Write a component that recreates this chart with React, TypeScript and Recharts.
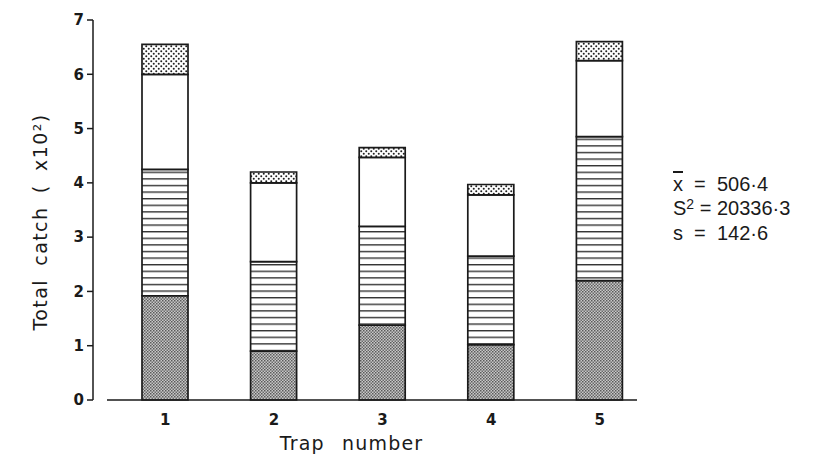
import React from 'react';
import { BarChart, Bar, XAxis, YAxis } from 'recharts';

const traps = ['1', '2', '3', '4', '5'];
const darkStipple = [1.92, 0.9, 1.38, 1.02, 2.2];
const hLines = [2.33, 1.65, 1.82, 1.63, 2.65];
const plain = [1.75, 1.45, 1.27, 1.13, 1.4];
const lightStipple = [0.55, 0.2, 0.18, 0.19, 0.35];
const yTicks = [0, 1, 2, 3, 4, 5, 6, 7];

const data = traps.map((t, i) => ({
  trap: t,
  dark: darkStipple[i],
  lines: hLines[i],
  plain: plain[i],
  light: lightStipple[i],
}));

const font = '"DejaVu Sans", "Liberation Sans", sans-serif';
const statFont = '"Liberation Sans", Arial, sans-serif';
const ink = '#1a1a1a';

export default function App() {
  return (
    <div style={{ position: 'absolute', left: 0, top: 0, width: 825, height: 459, background: '#fff' }}>
      <BarChart width={825} height={459} data={data} margin={{ top: 20, right: 171, bottom: 0, left: 0 }}>
        <defs>
          <pattern id="dark" width="3" height="3" patternUnits="userSpaceOnUse">
            <rect width="3" height="3" fill="#c8c8c8" />
            <rect x="0" y="0" width="1.5" height="1.5" fill="#5a5a5a" />
            <rect x="1.5" y="1.5" width="1.5" height="1.5" fill="#6a6a6a" />
          </pattern>
          <pattern id="lines" width="8" height="6.6" patternUnits="userSpaceOnUse">
            <rect width="8" height="6.6" fill="#fff" />
            <rect x="0" y="0" width="8" height="1.4" fill="#333" />
          </pattern>
          <pattern id="light" width="5" height="5" patternUnits="userSpaceOnUse">
            <rect width="5" height="5" fill="#fff" />
            <circle cx="1.25" cy="1.25" r="1" fill="#222" />
            <circle cx="3.75" cy="3.75" r="1" fill="#222" />
          </pattern>
        </defs>
        <XAxis
          dataKey="trap"
          height={59}
          padding={{ left: 18, right: 0 }}
          axisLine={{ stroke: ink, strokeWidth: 1.5, strokeDasharray: '0 14 530 1000' }}
          tickLine={false}
          tick={{ fill: ink, fontSize: 15, fontWeight: 'bold', fontFamily: font }}
          tickMargin={8}
          label={{
            value: 'Trap number',
            position: 'insideBottom',
            offset: 9,
            dx: -22,
            fill: ink,
            fontSize: 19,
            fontFamily: font,
            style: { letterSpacing: 1.2, wordSpacing: 10 },
          }}
        />
        <YAxis
          width={93}
          domain={[0, 7]}
          ticks={yTicks}
          interval={0}
          axisLine={{ stroke: ink, strokeWidth: 1.5 }}
          tickLine={{ stroke: ink, strokeWidth: 1.5 }}
          tickSize={6}
          tickMargin={3}
          tick={{ fill: ink, fontSize: 15, fontWeight: 'bold', fontFamily: font }}
          label={{
            value: 'Total catch ( x10²)',
            angle: -90,
            position: 'insideLeft',
            offset: 40,
            dy: 12,
            fill: ink,
            fontSize: 19,
            fontFamily: font,
            style: { textAnchor: 'middle', letterSpacing: 1.4, wordSpacing: 6 },
          }}
        />
        <Bar dataKey="dark" stackId="a" barSize={46} fill="url(#dark)" stroke={ink} strokeWidth={1.7} isAnimationActive={false} />
        <Bar dataKey="lines" stackId="a" barSize={46} fill="url(#lines)" stroke={ink} strokeWidth={1.7} isAnimationActive={false} />
        <Bar dataKey="plain" stackId="a" barSize={46} fill="#fff" stroke={ink} strokeWidth={1.7} isAnimationActive={false} />
        <Bar dataKey="light" stackId="a" barSize={46} fill="url(#light)" stroke={ink} strokeWidth={1.7} isAnimationActive={false} />
      </BarChart>
      <div
        style={{
          position: 'absolute',
          left: 673,
          top: 173,
          fontFamily: statFont,
          fontSize: 20,
          lineHeight: '23.5px',
          color: ink,
          whiteSpace: 'pre',
        }}
      >
        <div>
          <span style={{ textDecoration: 'overline' }}>x</span>
          {'  =  506·4'}
        </div>
        <div>
          S<span style={{ position: 'relative', top: -6, fontSize: 14 }}>2</span>
          {' = 20336·3'}
        </div>
        <div>{'s  =  142·6'}</div>
      </div>
    </div>
  );
}
